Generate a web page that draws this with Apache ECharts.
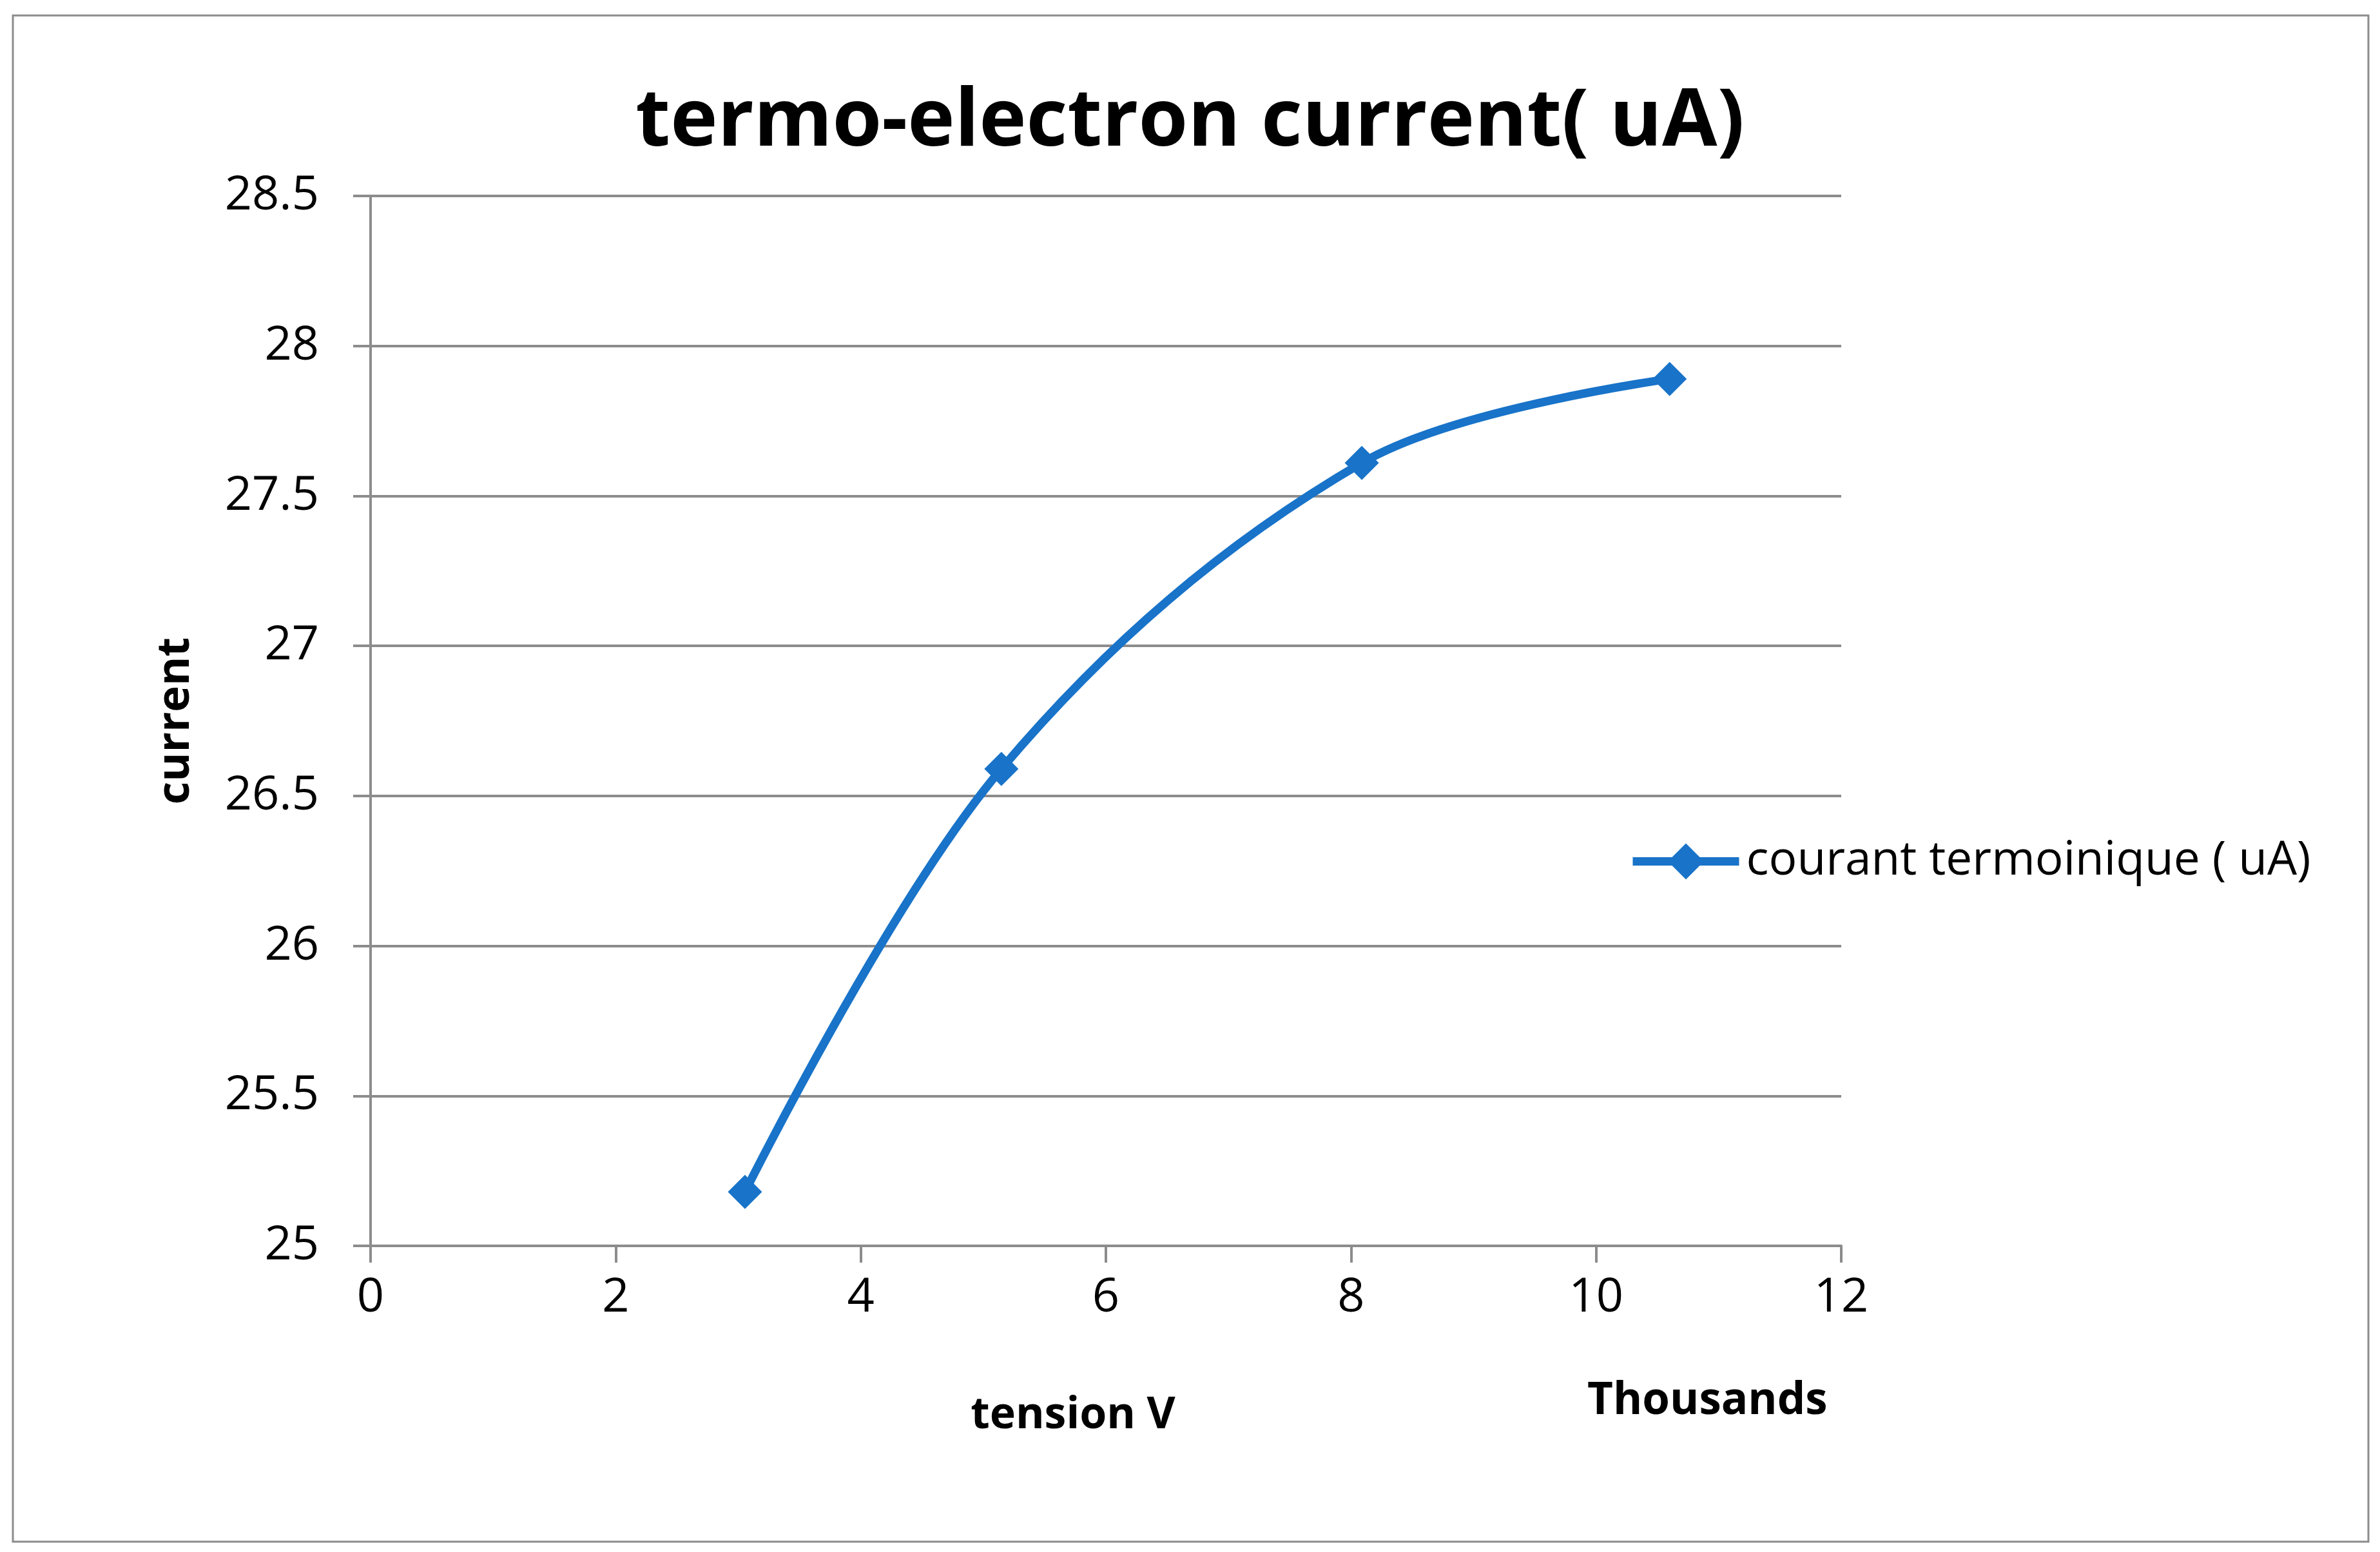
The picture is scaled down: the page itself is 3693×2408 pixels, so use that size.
<!DOCTYPE html>
<html>
<head>
<meta charset="utf-8">
<script src="https://cdn.jsdelivr.net/npm/echarts@6/dist/echarts.min.js"></script>
<style>
html,body{margin:0;padding:0;background:#fff;}
#chart{width:3693px;height:2408px;}
</style>
</head>
<body>
<div id="chart"></div>
<script>
// Data (tension in volts, current in uA)
const tensionV = [3055, 5147, 8088, 10600];
const currentUA = [25.18, 26.59, 27.61, 27.89];
const seriesName = 'courant termoinique ( uA)';
const chartTitle = 'termo-electron current( uA)';
const xAxisName = 'tension V';
const yAxisName = 'current';
const xUnitLabel = 'Thousands';

const FONT = '"Open Sans", sans-serif';
const GRID_COLOR = '#8c8c8c';
const LINE_COLOR = '#1873c9';

const chart = echarts.init(document.getElementById('chart'), null, {renderer: 'canvas'});
const points = tensionV.map((v, i) => [v, currentUA[i]]);

chart.setOption({
  backgroundColor: '#ffffff',
  animation: false,
  title: [
    {
      text: chartTitle,
      left: 'center',
      top: 124,
      textStyle: {fontFamily: FONT, fontWeight: 'bold', fontSize: 124, color: '#000'}
    },
    {
      text: xUnitLabel,
      left: 2458,
      top: 2135,
      textStyle: {fontFamily: FONT, fontWeight: 'bold', fontSize: 69, color: '#000'}
    }
  ],
  graphic: [{
    type: 'rect',
    shape: {x: 20, y: 24, width: 3655, height: 2368},
    style: {fill: 'none', stroke: GRID_COLOR, lineWidth: 3},
    silent: true,
    z: -1
  }],
  legend: {
    orient: 'vertical',
    left: 2522,
    top: 1295,
    itemWidth: 165,
    itemHeight: 70,
    itemGap: 10,
    lineStyle: {width: 13},
    textStyle: {fontFamily: FONT, fontSize: 73, color: '#000', padding: [0, 0, 0, 6]},
    data: [seriesName]
  },
  grid: {left: 575, right: 836, top: 304, bottom: 475, containLabel: false},
  xAxis: {
    type: 'value',
    min: 0, max: 12000, interval: 2000,
    name: xAxisName,
    nameLocation: 'middle',
    nameGap: 230,
    nameTextStyle: {fontFamily: FONT, fontWeight: 'bold', fontSize: 68, color: '#000', padding: [0, 102, 0, 0]},
    axisLine: {show: true, lineStyle: {color: GRID_COLOR, width: 4}},
    axisTick: {show: true, length: 26, lineStyle: {color: GRID_COLOR, width: 4}},
    axisLabel: {fontFamily: FONT, fontSize: 74, color: '#000', margin: 44, formatter: v => String(v / 1000)},
    splitLine: {show: false}
  },
  yAxis: {
    type: 'value',
    min: 25, max: 28.5, interval: 0.5,
    name: yAxisName,
    nameLocation: 'middle',
    nameGap: 267,
    nameRotate: 90,
    nameTextStyle: {fontFamily: FONT, fontWeight: 'bold', fontSize: 69, color: '#000'},
    axisLine: {show: true, lineStyle: {color: GRID_COLOR, width: 4}},
    axisTick: {show: true, length: 27, lineStyle: {color: GRID_COLOR, width: 4}},
    axisLabel: {fontFamily: FONT, fontSize: 74, color: '#000', margin: 80},
    splitLine: {show: true, lineStyle: {color: GRID_COLOR, width: 4}}
  },
  series: [{
    name: seriesName,
    type: 'line',
    data: points,
    smooth: 0.35,
    symbol: 'diamond',
    symbolSize: 53,
    lineStyle: {color: LINE_COLOR, width: 13},
    itemStyle: {color: LINE_COLOR},
    z: 5
  }]
});
</script>
</body>
</html>
